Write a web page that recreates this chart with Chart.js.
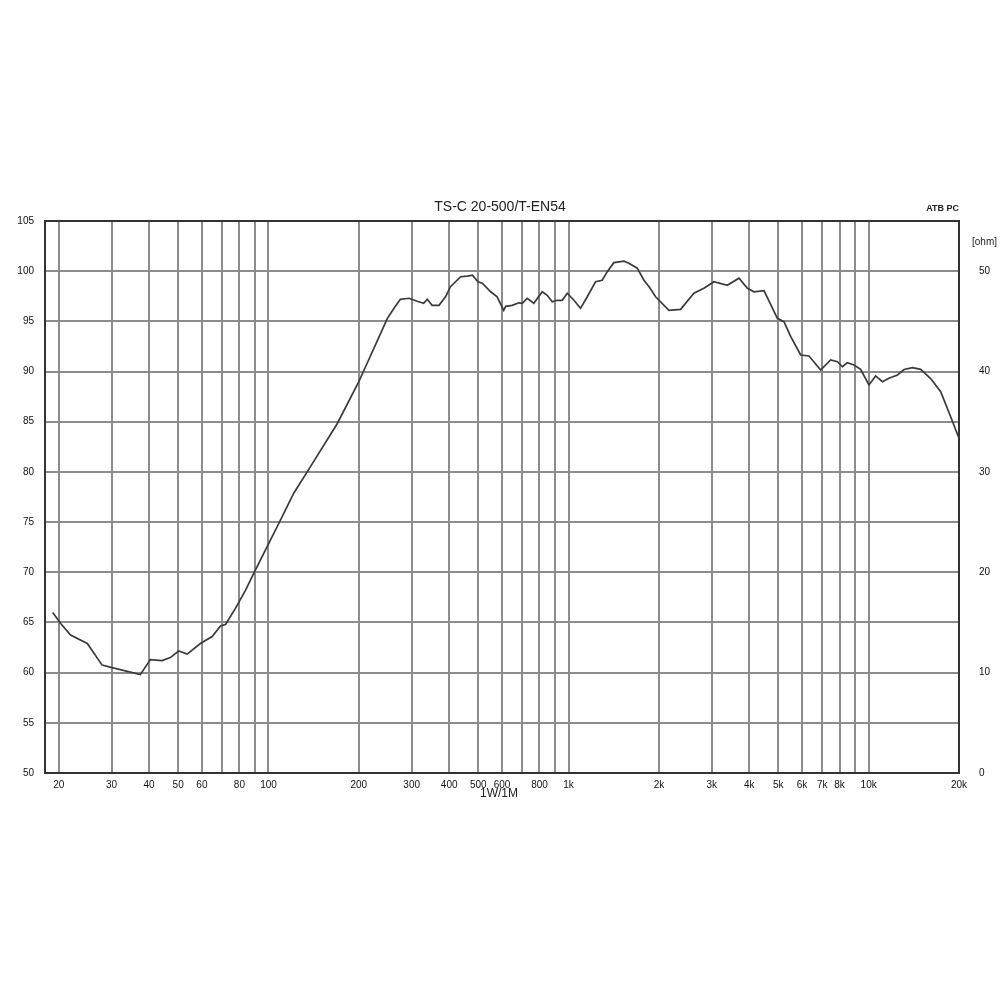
<!DOCTYPE html>
<html>
<head>
<meta charset="utf-8">
<script src="https://cdn.jsdelivr.net/npm/chart.js@4/dist/chart.umd.min.js"></script>
<style>
  html, body { margin: 0; padding: 0; background: #fff; }
</style>
</head>
<body>
<canvas id="spl" width="1000" height="1000"></canvas>
<script>
// SPL curve (Hz / dB)
const freqs = [19.1, 20.3, 21.9, 24.9, 27.9, 30.1, 37.4, 40.4, 44.2, 47.1, 50.2, 53.6, 59.3, 64.9, 69.2, 71.9, 77.6, 83.8, 89.3,
  109.6, 121.5, 134.6, 169.4, 200, 213, 230, 249, 262, 275, 294, 313, 329, 338, 351, 370, 389, 404, 437, 460, 478, 499, 516,
  550, 578, 608, 617, 649, 683, 701, 728, 766, 817, 849, 882, 916, 952, 990, 1042, 1096, 1154, 1230, 1294, 1346, 1416, 1529,
  1589, 1694, 1783, 1860, 1950, 2160, 2362, 2616, 2825, 3050, 3381, 3697, 3945, 4150, 4480, 4963, 5220, 5495, 5934, 6325,
  6918, 7470, 7870, 8170, 8490, 8935, 9400, 10020, 10550, 11110, 11690, 12470, 13120, 13990, 14900, 16090, 17380, 18760, 20000];
const spl = [66.0, 64.9, 63.75, 62.9, 60.75, 60.5, 59.8, 61.3, 61.2, 61.5, 62.15, 61.85, 62.9, 63.6, 64.65, 64.8, 66.4, 68.2, 69.9,
  75.2, 77.9, 80.0, 84.8, 89.0, 90.8, 93.0, 95.3, 96.3, 97.2, 97.3, 97.0, 96.8, 97.2, 96.6, 96.6, 97.45, 98.45, 99.45, 99.5, 99.6, 98.95, 98.8,
  97.95, 97.45, 96.1, 96.5, 96.6, 96.85, 96.8, 97.3, 96.8, 97.95, 97.6, 96.95, 97.1, 97.1, 97.8, 97.1, 96.3, 97.45, 98.95, 99.1, 99.95, 100.85, 101.0,
  100.8, 100.3, 99.1, 98.4, 97.45, 96.1, 96.2, 97.8, 98.3, 98.95, 98.6, 99.3, 98.3, 97.95, 98.05, 95.3, 94.97, 93.5, 91.65, 91.55,
  90.15, 91.15, 90.98, 90.48, 90.88, 90.65, 90.22, 88.66, 89.56, 88.99, 89.33, 89.66, 90.2, 90.38, 90.22, 89.3, 88.0, 85.5, 83.35];

// x grid lines and their labels ('' = line only)
const gridFreqs = [20, 30, 40, 50, 60, 70, 80, 90, 100, 200, 300, 400, 500, 600, 700, 800, 900,
  1000, 2000, 3000, 4000, 5000, 6000, 7000, 8000, 9000, 10000, 20000];
const gridLabels = ['20', '30', '40', '50', '60', '', '80', '', '100', '200', '300', '400', '500', '600', '', '800', '',
  '1k', '2k', '3k', '4k', '5k', '6k', '7k', '8k', '', '10k', '20k'];
const dbTicks = [50, 55, 60, 65, 70, 75, 80, 85, 90, 95, 100, 105];
const ohmTicks = [0, 10, 20, 30, 40, 50];

const titleText = 'TS-C 20-500/T-EN54';
const FONT = '"Liberation Sans", Arial, sans-serif';
const GRID = '#8c8c8c';
const DARK = '#333';

const extraText = {
  id: 'extraText',
  afterDraw(chart) {
    const c = chart.ctx, a = chart.chartArea;
    c.save();
    c.fillStyle = '#222';
    c.textBaseline = 'middle';
    c.textAlign = 'center';
    c.font = '14px ' + FONT;
    c.fillText(titleText, chart.width / 2, a.top - 14);
    c.font = '12px ' + FONT;
    c.fillText('1W/1M', (a.left + a.right) / 2 - 3, a.bottom + 21);
    c.textAlign = 'right';
    c.font = 'bold 9px ' + FONT;
    c.fillText('ATB PC', a.right, a.top - 12);
    c.textAlign = 'left';
    c.font = '10px ' + FONT;
    c.fillText('[ohm]', a.right + 13, a.top + 21);
    c.restore();
  }
};

new Chart(document.getElementById('spl'), {
  type: 'line',
  data: {
    datasets: [{
      data: freqs.map((f, i) => ({ x: f, y: spl[i] })),
      borderColor: '#3a3a3a',
      borderWidth: 1.7,
      pointRadius: 0,
      tension: 0,
      fill: false
    }]
  },
  options: {
    responsive: false,
    animation: false,
    layout: { padding: { top: 221, left: 0, right: 0, bottom: 0 } },
    plugins: { legend: { display: false }, tooltip: { enabled: false } },
    scales: {
      x: {
        type: 'logarithmic',
        min: 18,
        max: 20000,
        afterBuildTicks: s => { s.ticks = gridFreqs.map(v => ({ value: v })); },
        afterFit: s => { s.height = 227; },
        grid: {
          color: ctx => (ctx.tick && ctx.tick.value === 20000 ? DARK : GRID),
          lineWidth: 2,
          drawTicks: false
        },
        border: { color: DARK, width: 2 },
        ticks: {
          autoSkip: false,
          maxRotation: 0,
          padding: 6,
          color: '#111',
          font: { family: FONT, size: 10 },
          callback: (v, i) => gridLabels[i]
        }
      },
      y: {
        position: 'left',
        min: 50,
        max: 105,
        afterBuildTicks: s => { s.ticks = dbTicks.map(v => ({ value: v })); },
        afterFit: s => { s.width = 45; },
        grid: {
          color: ctx => (ctx.tick && ctx.tick.value === 105 ? DARK : GRID),
          lineWidth: 2,
          drawTicks: false
        },
        border: { color: DARK, width: 2 },
        ticks: { padding: 11, color: '#111', font: { family: FONT, size: 10 } }
      },
      y2: {
        position: 'right',
        min: 0,
        max: 55,
        afterBuildTicks: s => { s.ticks = ohmTicks.map(v => ({ value: v })); },
        afterFit: s => { s.width = 41; },
        grid: { drawOnChartArea: false, drawTicks: false },
        border: { color: DARK, width: 2 },
        ticks: { padding: 20, color: '#111', font: { family: FONT, size: 10 } }
      }
    }
  },
  plugins: [extraText]
});
</script>
</body>
</html>
